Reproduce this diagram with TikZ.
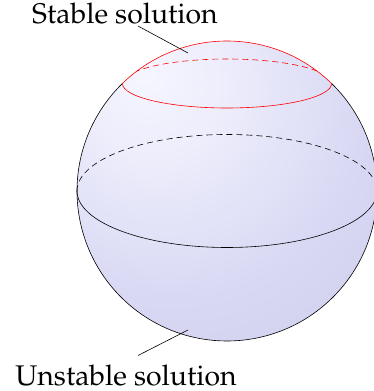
\documentclass[tikz,border=0pt]{standalone}
\usepackage[T1]{fontenc}
\usepackage{mathpazo}
\usepackage{tikz}
\definecolor{spherehi}{HTML}{F6F6FF}
\definecolor{spheremid}{HTML}{D8D8F4}
\definecolor{spherelo}{HTML}{C8C8E4}
\pgfdeclareradialshading{sphereshade}{\pgfpoint{-14bp}{20bp}}{%
  color(0bp)=(spherehi); color(12bp)=(spherehi!70!spheremid); color(32bp)=(spheremid);
  color(62bp)=(spherelo); color(100bp)=(spherelo)}

\begin{document}
\begin{tikzpicture}[
  x=1pt, y=1pt,
  label/.style={font=\fontsize{28.4}{34}\selectfont, inner sep=0pt, anchor=base},
  leader/.style={black, line width=0.6pt},
  outline/.style={line width=0.6pt},
  hidden/.style={dashed, dash pattern=on 6pt off 4pt, line width=0.6pt}
]
\useasboundingbox (0,0) rectangle (374,391);

% sphere
\coordinate (O) at (227,200);
\shade[shading=sphereshade] (O) circle (150);

% equator
\draw[hidden] (77,200) arc[start angle=180, end angle=0, x radius=150, y radius=56.5];
\draw[outline] (77,200) arc[start angle=180, end angle=360, x radius=150, y radius=56.5];

% outline, upper cap in red
\draw[outline] (O) ++(45.8:150) arc[start angle=45.8, end angle=-225.8, radius=150];
\draw[outline, red] (O) ++(45.8:150) arc[start angle=45.8, end angle=134.2, radius=150];

% stable latitude
\coordinate (C) at (227,307.5);
\begin{scope}
  \clip (O) circle (150);
  \draw[hidden, red] (C) ++(104.6,0) arc[start angle=0, end angle=180, x radius=104.6, y radius=24.5];
\end{scope}
\draw[outline, red] (C) ++(-104.6,0) arc[start angle=180, end angle=360, x radius=104.6, y radius=24.5];

% labels
\node[label] (stable) at (125,367) {Stable solution};
\node[label] (unstable) at (126,5.5) {Unstable solution};
\coordinate (stablept) at (188,338);
\coordinate (unstablept) at (188,61);
\draw[leader] (stable.base) ++(13,-2) -- (stablept);
\draw[leader] (unstable.base) ++(12,30) -- (unstablept);
\end{tikzpicture}
\end{document}
